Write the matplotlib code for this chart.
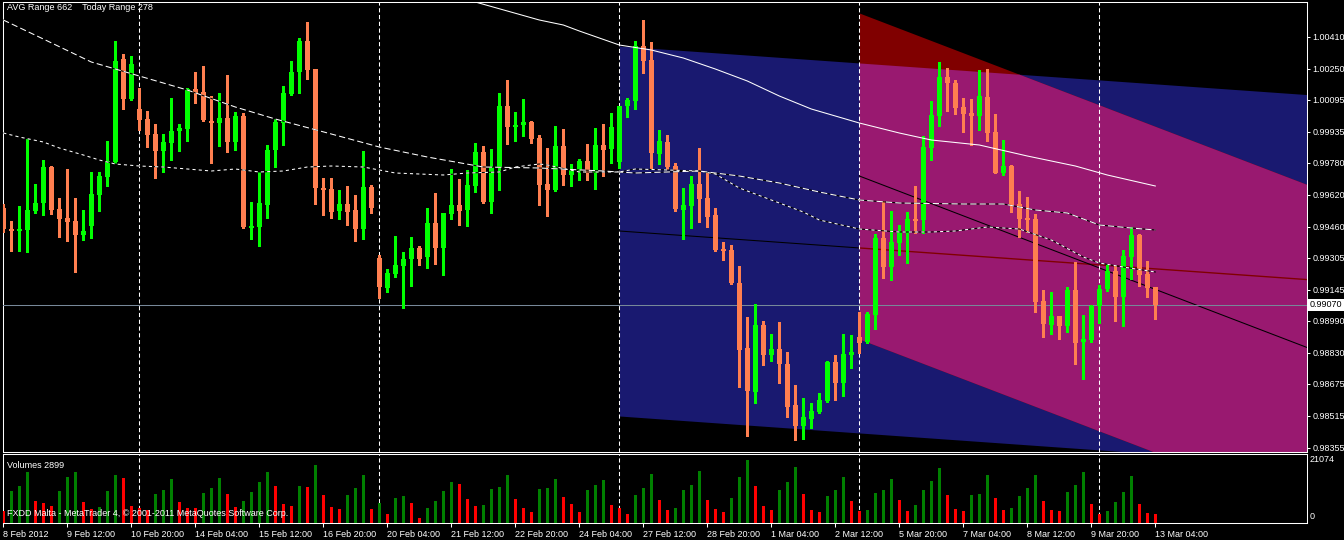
import matplotlib
matplotlib.use("Agg")
import matplotlib.pyplot as plt
import numpy as np

plt.rcParams['font.family'] = ['Liberation Sans', 'DejaVu Sans']

# ---------------- data (EURCHF-like H4 bars) ----------------
time_labels = ["8 Feb 2012", "9 Feb 12:00", "10 Feb 20:00", "14 Feb 04:00", "15 Feb 12:00",
               "16 Feb 20:00", "20 Feb 04:00", "21 Feb 12:00", "22 Feb 20:00", "24 Feb 04:00",
               "27 Feb 12:00", "28 Feb 20:00", "1 Mar 04:00", "2 Mar 12:00", "5 Mar 20:00",
               "7 Mar 04:00", "8 Mar 12:00", "9 Mar 20:00", "13 Mar 04:00"]
label_bars = list(range(0, 145, 8))

opens = [0.99555, 0.99450, 0.99440, 0.99445, 0.99540, 0.99580, 0.99760, 0.99550, 0.99505, 0.99490,
         0.99420, 0.99465, 0.99620, 0.99710, 0.99785, 1.00300, 1.00100, 1.00050, 1.00000, 0.99925,
         0.99840, 0.99880, 0.99940, 0.99950, 1.00150, 1.00135, 0.99990, 0.99980, 1.00005, 0.99885,
         1.00015, 0.99455, 0.99460, 0.99570, 0.99845, 0.99980, 1.00125, 1.00235, 1.00390, 1.00250,
         0.99655, 0.99650, 0.99540, 0.99575, 0.99545, 0.99450, 0.99660, 0.99305, 0.99155, 0.99225,
         0.99265, 0.99300, 0.99355, 0.99310, 0.99480, 0.99355, 0.99525, 0.99570, 0.99545, 0.99665,
         0.99835, 0.99585, 0.99755, 1.00065, 0.99960, 0.99970, 0.99985, 0.99905, 0.99675, 0.99645,
         0.99865, 0.99720, 0.99745, 0.99790, 0.99730, 0.99870, 0.99850, 0.99785, 1.00065, 1.00090,
         1.00365, 1.00295, 0.99825, 0.99885, 0.99765, 0.99545, 0.99565, 0.99675, 0.99605, 0.99520,
         0.99350, 0.99345, 0.99180, 0.98855, 0.98635, 0.98970, 0.98820, 0.98850, 0.98775, 0.98570,
         0.98465, 0.98500, 0.98535, 0.98590, 0.98785, 0.98680, 0.98820, 0.98910, 0.98885, 0.99020,
         0.99405, 0.99260, 0.99380, 0.99430, 0.99500, 0.99495, 0.99855, 1.00015, 1.00210, 1.00180,
         1.00060, 1.00030, 1.00015, 1.00110, 0.99935, 0.99730, 0.99765, 0.99575, 0.99505, 0.99500,
         0.99090, 0.98970, 0.99015, 0.98965, 0.99145, 0.98885, 0.98895, 0.99065, 0.99150, 0.99240,
         0.99110, 0.99310, 0.99420, 0.99225, 0.99160]
highs = [0.99575, 0.99490, 0.99565, 0.99900, 0.99675, 0.99795, 0.99765, 0.99605, 0.99750, 0.99605,
         0.99545, 0.99735, 0.99735, 0.99890, 1.00390, 1.00325, 1.00315, 1.00155, 1.00040, 0.99975,
         0.99925, 1.00105, 0.99975, 1.00155, 1.00235, 1.00265, 1.00115, 1.00130, 1.00220, 1.00035,
         1.00030, 0.99585, 0.99735, 0.99870, 1.00000, 1.00165, 1.00290, 1.00405, 1.00485, 1.00250,
         0.99705, 0.99705, 0.99645, 0.99665, 0.99620, 0.99840, 0.99670, 0.99320, 0.99250, 0.99415,
         0.99335, 0.99410, 0.99365, 0.99555, 0.99630, 0.99530, 0.99750, 0.99700, 0.99745, 0.99880,
         0.99865, 0.99850, 1.00130, 1.00195, 1.00035, 1.00100, 0.99990, 0.99920, 0.99855, 0.99965,
         0.99950, 0.99775, 0.99800, 0.99875, 0.99955, 0.99975, 1.00030, 1.00065, 1.00105, 1.00390,
         1.00495, 1.00385, 0.99945, 0.99920, 0.99780, 0.99655, 0.99715, 0.99855, 0.99735, 0.99555,
         0.99385, 0.99370, 0.99265, 0.99010, 0.99075, 0.98990, 0.98925, 0.98985, 0.98835, 0.98670,
         0.98605, 0.98580, 0.98630, 0.98790, 0.98820, 0.98925, 0.98920, 0.99035, 0.99035, 0.99425,
         0.99590, 0.99540, 0.99470, 0.99535, 0.99665, 0.99915, 1.00090, 1.00285, 1.00255, 1.00195,
         1.00105, 1.00100, 1.00245, 1.00250, 1.00025, 0.99895, 0.99770, 0.99640, 0.99610, 0.99525,
         0.99145, 0.99135, 0.99015, 0.99160, 0.99285, 0.99020, 0.99070, 0.99170, 0.99275, 0.99265,
         0.99345, 0.99460, 0.99425, 0.99290, 0.99160]
lows = [0.99435, 0.99340, 0.99340, 0.99335, 0.99530, 0.99520, 0.99525, 0.99410, 0.99390, 0.99235,
        0.99395, 0.99405, 0.99540, 0.99665, 0.99780, 1.00050, 1.00095, 0.99945, 0.99860, 0.99705,
        0.99735, 0.99795, 0.99840, 0.99890, 1.00080, 0.99990, 0.99780, 0.99865, 0.99835, 0.99845,
        0.99455, 0.99400, 0.99365, 0.99505, 0.99760, 0.99870, 1.00120, 1.00130, 1.00200, 0.99575,
        0.99520, 0.99505, 0.99500, 0.99470, 0.99390, 0.99400, 0.99530, 0.99105, 0.99135, 0.99210,
        0.99055, 0.99165, 0.99270, 0.99255, 0.99275, 0.99220, 0.99500, 0.99470, 0.99465, 0.99635,
        0.99580, 0.99530, 0.99645, 0.99875, 0.99890, 0.99915, 0.99880, 0.99570, 0.99515, 0.99640,
        0.99670, 0.99665, 0.99695, 0.99695, 0.99650, 0.99715, 0.99780, 0.99755, 1.00010, 1.00050,
        1.00230, 0.99755, 0.99775, 0.99750, 0.99540, 0.99400, 0.99455, 0.99485, 0.99460, 0.99340,
        0.99295, 0.99175, 0.98660, 0.98415, 0.98580, 0.98770, 0.98790, 0.98680, 0.98510, 0.98395,
        0.98400, 0.98455, 0.98530, 0.98585, 0.98595, 0.98615, 0.98755, 0.98830, 0.98880, 0.98950,
        0.99205, 0.99195, 0.99320, 0.99280, 0.99430, 0.99430, 0.99795, 0.99965, 1.00040, 1.00025,
        0.99935, 0.99870, 0.99945, 0.99890, 0.99730, 0.99720, 0.99535, 0.99410, 0.99435, 0.99035,
        0.98910, 0.98925, 0.98900, 0.98935, 0.98775, 0.98700, 0.98885, 0.98980, 0.99140, 0.98990,
        0.98965, 0.99200, 0.99165, 0.99110, 0.99000]
closes = [0.99450, 0.99440, 0.99450, 0.99545, 0.99580, 0.99760, 0.99545, 0.99500, 0.99485, 0.99420,
          0.99440, 0.99625, 0.99715, 0.99790, 1.00290, 1.00100, 1.00275, 0.99995, 0.99920, 0.99840,
          0.99885, 0.99940, 0.99955, 1.00150, 1.00130, 0.99995, 0.99980, 1.00005, 0.99885, 1.00015,
          0.99460, 0.99465, 0.99580, 0.99845, 0.99985, 1.00130, 1.00235, 1.00390, 1.00245, 0.99655,
          0.99645, 0.99535, 0.99575, 0.99535, 0.99450, 0.99660, 0.99555, 0.99160, 0.99230, 0.99270,
          0.99300, 0.99355, 0.99300, 0.99480, 0.99355, 0.99530, 0.99570, 0.99540, 0.99670, 0.99835,
          0.99585, 0.99760, 1.00065, 0.99960, 0.99970, 0.99985, 0.99900, 0.99670, 0.99645, 0.99865,
          0.99720, 0.99750, 0.99790, 0.99730, 0.99870, 0.99845, 0.99960, 1.00065, 1.00095, 1.00365,
          1.00290, 0.99830, 0.99890, 0.99760, 0.99550, 0.99570, 0.99675, 0.99600, 0.99510, 0.99345,
          0.99340, 0.99180, 0.98845, 0.98640, 0.98970, 0.98820, 0.98850, 0.98775, 0.98560, 0.98465,
          0.98510, 0.98540, 0.98595, 0.98785, 0.98680, 0.98825, 0.98835, 0.98880, 0.99025, 0.99405,
          0.99260, 0.99385, 0.99435, 0.99500, 0.99490, 0.99860, 1.00020, 1.00210, 1.00180, 1.00055,
          1.00025, 1.00015, 1.00115, 0.99930, 0.99730, 0.99765, 0.99570, 0.99500, 0.99495, 0.99085,
          0.98975, 0.99015, 0.98965, 0.99145, 0.98880, 0.98900, 0.99065, 0.99150, 0.99240, 0.99110,
          0.99315, 0.99420, 0.99220, 0.99155, 0.99070]
volumes = [4010, 10820, 12380, 17170, 7470, 6800, 5690, 10700, 15390, 17170,
           7140, 4680, 5460, 10700, 16060, 15160, 5690, 4910, 4350, 9700,
           11040, 14720, 7030, 5130, 4910, 10150, 11710, 15050, 9590, 5460,
           7360, 10370, 13720, 17060, 12380, 6360, 5800, 12380, 12200, 19400,
           9370, 5350, 4680, 9370, 11710, 16060, 4680, 6580, 3010, 8360,
           9030, 6690, 1670, 5020, 7360, 10700, 13720, 13050, 8030, 5690,
           6020, 11370, 12040, 16060, 8030, 5020, 3680, 11370, 11710, 14720,
           8700, 6360, 3680, 11040, 12710, 14380, 6020, 4910, 3010, 9370,
           11710, 16390, 7690, 4350, 5020, 11040, 12710, 17390, 7690, 4680,
           3680, 8360, 15390, 21074, 12380, 5690, 4350, 11040, 13720, 18730,
           9700, 4350, 3680, 9030, 11040, 15390, 7360, 4010, 4240, 10040,
           11040, 14720, 7690, 4010, 6020, 11040, 14050, 18400, 9370, 4680,
           4010, 9370, 9700, 16060, 8360, 4350, 5020, 9030, 11710, 16060,
           7360, 4350, 4010, 10370, 12710, 17060, 6360, 3010, 4010, 7030,
           10370, 15720, 6360, 3230, 2899]

# moving averages, sampled at bar indices
ma_long_bars = [55, 59, 63, 67, 70, 72, 77, 81, 85, 89, 93, 97, 101, 107, 112, 116, 122, 128, 134, 138, 144]
ma_long_vals = [1.00650, 1.00585, 1.00540, 1.00495, 1.00470, 1.00440, 1.00370, 1.00345, 1.00305, 1.00250,
                1.00190, 1.00115, 1.00050, 0.99980, 0.99930, 0.99895, 0.99870, 0.99815, 0.99765, 0.99720,
                0.99665]
ma_mid_bars = [0, 5, 11, 17, 23, 29, 34, 41, 47, 53, 60, 67, 75, 79, 87, 92, 97, 102, 107, 112, 120,
               125, 129, 133, 137, 141, 144]
ma_mid_vals = [1.00495, 1.00400, 1.00285, 1.00215, 1.00145, 1.00060, 1.00000, 0.99925, 0.99860, 0.99810,
               0.99760, 0.99755, 0.99740, 0.99730, 0.99740, 0.99715, 0.99680, 0.99635, 0.99595, 0.99580,
               0.99575, 0.99575, 0.99545, 0.99530, 0.99470, 0.99455, 0.99445]
ma_short_bars = [0, 2, 5, 7, 10, 12, 14, 17, 20, 23, 26, 29, 32, 35, 38, 41, 45, 49, 55, 58, 62, 64,
                 67, 68, 72, 77, 79, 83, 87, 89, 92, 95, 100, 102, 107, 112, 116, 119, 123, 127, 131,
                 135, 137, 140, 144]
ma_short_vals = [0.99930, 0.99910, 0.99885, 0.99855, 0.99820, 0.99795, 0.99775, 0.99765, 0.99760, 0.99750,
                 0.99740, 0.99750, 0.99735, 0.99740, 0.99760, 0.99765, 0.99760, 0.99730, 0.99720, 0.99730,
                 0.99735, 0.99760, 0.99775, 0.99770, 0.99735, 0.99735, 0.99750, 0.99745, 0.99740, 0.99725,
                 0.99655, 0.99610, 0.99535, 0.99495, 0.99450, 0.99435, 0.99435, 0.99440, 0.99460, 0.99450,
                 0.99395, 0.99310, 0.99280, 0.99260, 0.99235]

# regression channels: start bar, centre price at start and at the right edge bar, half width
channel_end_bar = 163
blue_start_bar, blue_center_start, blue_center_end, blue_half = 77, 0.99440, 0.99197, 0.00925
pink_start_bar, pink_center_start, pink_center_end, pink_half = 107, 0.99715, 0.98857, 0.00815

separator_bars = [17, 47, 77, 107, 137]
price_ticks = [1.00410, 1.00250, 1.00095, 0.99935, 0.99780, 0.99620, 0.99460, 0.99305,
               0.99145, 0.98990, 0.98830, 0.98675, 0.98515, 0.98355]
current_price = 0.99070
volume_max = 21074
avg_range, today_range = 662, 278

# ---------------- layout ----------------
W, H = 1344, 540
fig = plt.figure(figsize=(W / 100, H / 100), dpi=100, facecolor='black')


def box(x0, y0, x1, y1):
    return [x0 / W, 1 - y1 / H, (x1 - x0) / W, (y1 - y0) / H]


ax = fig.add_axes(box(3, 2, 1307, 452))
axv = fig.add_axes(box(3, 454, 1307, 523))
LW = 0.75
FS = 6.5

for a in (ax, axv):
    a.set_facecolor('black')
    for s in a.spines.values():
        s.set_color('white')
        s.set_linewidth(LW)
    a.set_xlim(-0.0375, 162.96)

ax.set_ylim(0.98335, 1.00585)
axv.set_ylim(0, volume_max * 69 / 63)

# channels
xs = np.linspace(blue_start_bar, channel_end_bar, 800)
bc = blue_center_start + (blue_center_end - blue_center_start) * (xs - blue_start_bar) / (channel_end_bar - blue_start_bar)
ax.fill_between(xs, bc - blue_half, bc + blue_half, color='#191970', lw=0, zorder=1)
xp = np.linspace(pink_start_bar, channel_end_bar, 800)
pc = pink_center_start + (pink_center_end - pink_center_start) * (xp - pink_start_bar) / (channel_end_bar - pink_start_bar)
ax.fill_between(xp, pc - pink_half, pc + pink_half, color='#800000', lw=0, zorder=1.1)
bcp = blue_center_start + (blue_center_end - blue_center_start) * (xp - blue_start_bar) / (channel_end_bar - blue_start_bar)
ov_top = np.minimum(bcp + blue_half, pc + pink_half)
ov_bot = np.maximum(bcp - blue_half, pc - pink_half)
ax.fill_between(xp, ov_bot, ov_top, where=ov_top > ov_bot, color='#991970', lw=0, zorder=1.2)

# channel centre lines
mid_b = blue_center_start + (blue_center_end - blue_center_start) * (pink_start_bar - blue_start_bar) / (channel_end_bar - blue_start_bar)
ax.plot([blue_start_bar, pink_start_bar], [blue_center_start, mid_b], color='black', lw=LW, zorder=2)
ax.plot([pink_start_bar, channel_end_bar], [mid_b, blue_center_end], color='#800000', lw=LW * 1.3, zorder=2)
ax.plot([pink_start_bar, channel_end_bar], [pink_center_start, pink_center_end], color='black', lw=LW, zorder=2)

# separators
for s in separator_bars:
    for a in (ax, axv):
        a.axvline(s, color='white', lw=LW, ls=(0, (4, 2.5)), zorder=2.5)

# bid line
ax.axhline(current_price, color='#778899', lw=LW, zorder=2.6)

# candles
o, h, l, c = map(np.array, (opens, highs, lows, closes))
idx = np.arange(len(o))
cols = np.where(c >= o, '#00ff00', '#ff7f50')
ax.vlines(idx, l, h, colors=cols, lw=LW, zorder=4, antialiased=False)
body_lo = np.minimum(o, c)
body_h = np.maximum(np.abs(c - o), 0.00005)
ax.bar(idx, body_h, bottom=body_lo, width=0.62, color=cols, lw=0, zorder=5, antialiased=False)

# moving averages
ax.plot(ma_long_bars, ma_long_vals, color='white', lw=LW, zorder=6)
ax.plot(ma_mid_bars, ma_mid_vals, color='black', lw=LW, zorder=6)
ax.plot(ma_mid_bars, ma_mid_vals, color='white', lw=LW, ls=(0, (6, 3)), zorder=6.1)
ax.plot(ma_short_bars, ma_short_vals, color='black', lw=LW, zorder=6)
ax.plot(ma_short_bars, ma_short_vals, color='white', lw=LW, ls=(0, (3, 3)), zorder=6.1)

# volumes
v = np.array(volumes)
vcols = ['#ff0000'] + ['#008000' if v[k] > v[k - 1] else '#ff0000' for k in range(1, len(v))]
axv.vlines(idx, 0, v, colors=vcols, lw=LW, zorder=4, antialiased=False)

# price axis
ax.yaxis.tick_right()
ax.set_yticks(price_ticks)
ax.set_yticklabels([f"{p:.5f}" for p in price_ticks])
ax.tick_params(axis='y', colors='white', length=2.5, width=LW, pad=1.5, labelsize=FS)
ax.tick_params(axis='x', bottom=False, labelbottom=False)
ax.text(1.0 + 3 / 1304, current_price, f"{current_price:.5f}", transform=ax.get_yaxis_transform(),
        ha='left', va='center', color='black', fontsize=FS, clip_on=False, zorder=10,
        bbox=dict(boxstyle='square,pad=0.18', fc='white', ec='none'))

# volume axis
axv.set_yticks([])
axv.text(1.0 + 3 / 1304, volume_max, f"{volume_max}", transform=axv.get_yaxis_transform(),
         ha='left', va='center', color='white', fontsize=FS, clip_on=False)
axv.text(1.0 + 3 / 1304, 0.10, "0", transform=axv.transAxes,
         ha='left', va='center', color='white', fontsize=FS, clip_on=False)

# time axis
axv.set_xticks(label_bars)
axv.set_xticklabels(time_labels, ha='left')
axv.tick_params(axis='x', colors='white', length=3, width=LW, pad=2, labelsize=FS, direction='out')

# texts
fig.text(7 / W, 1 - 8 / H, f"AVG Range {avg_range}    Today Range {today_range}", color='white',
         fontsize=FS, ha='left', va='center')
fig.text(7 / W, 1 - 465 / H, f"Volumes {volumes[-1]}", color='white', fontsize=FS, ha='left', va='center')
fig.text(7 / W, 1 - 514 / H, "FXDD Malta - MetaTrader 4, \u00a9 2001-2011 MetaQuotes Software Corp.",
         color='white', fontsize=FS, ha='left', va='center')

fig.savefig("out.png", dpi=100, facecolor='black')
